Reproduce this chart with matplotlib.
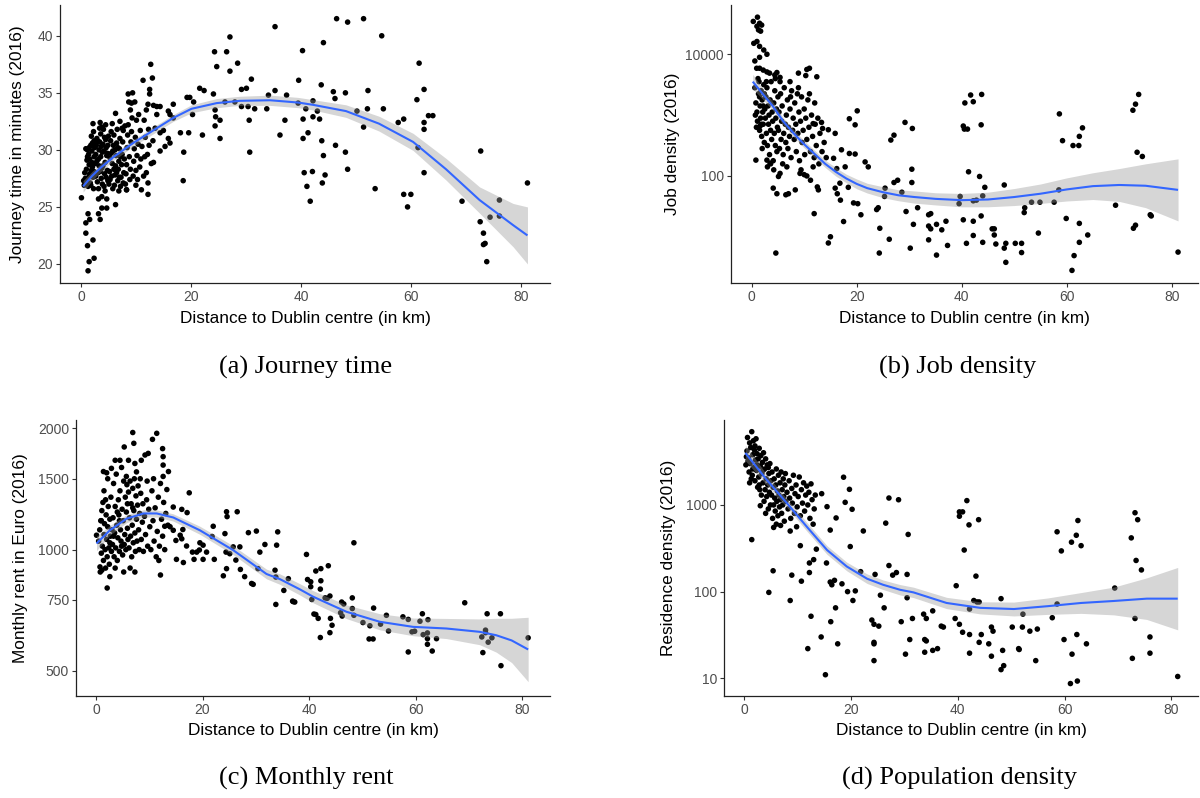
import numpy as np
import matplotlib
matplotlib.use("Agg")
import matplotlib.pyplot as plt
from matplotlib.ticker import FixedLocator, NullLocator, FixedFormatter

# ---------------- DATA ----------------
# (a) Journey time in minutes vs distance (km)
journey_pts = [
    (0.1, 25.8), (0.9, 22.7), (1.2, 21.6), (1.3, 19.4), (1.5, 20.2), (2.4, 20.5), (2.2, 22.1),
    (1.3, 24.4), (0.9, 23.6), (1.6, 23.9), (3.2, 24.4), (3.5, 23.9), (3.8, 24.9), (4.7, 24.9),
    (6.3, 25.2), (3.2, 25.7), (3.8, 25.9), (4.7, 25.7), (8.3, 26.5), (12.2, 26.1), (18.6, 27.3),
    (18.7, 29.8), (18.1, 31.5), (19.6, 31.5), (19.3, 34.6), (19.8, 34.6), (20.5, 34.2), (20.3, 33.1),
    (22.1, 31.3), (21.6, 35.4), (22.4, 35.2), (24.1, 34.9), (24.3, 38.6), (24.7, 37.3), (26.5, 38.6),
    (27.1, 39.9), (27.1, 36.9), (28.5, 37.6), (24.4, 33.5), (24.5, 32.9), (24.4, 32.1), (25.3, 32.6),
    (25.3, 31.0), (26.2, 34.2), (28.0, 34.2), (29.2, 35.3), (30.1, 35.4), (31.0, 36.2), (29.2, 33.8),
    (30.4, 33.8), (31.6, 33.6), (30.6, 32.6), (30.7, 29.8), (33.8, 33.6), (34.1, 34.8), (35.3, 35.2),
    (35.3, 40.8), (37.1, 32.6), (36.2, 31.3), (37.4, 34.8), (39.6, 36.1), (39.5, 34.1),
    (40.3, 38.7), (40.9, 33.6), (40.4, 32.7), (40.4, 31.0), (41.3, 31.5), (40.6, 28.0), (41.1, 26.8),
    (41.7, 25.5), (42.1, 28.1), (42.2, 34.3), (42.2, 32.9), (43.0, 33.4), (43.4, 32.7), (43.7, 35.7),
    (44.1, 39.4), (43.8, 30.8), (44.1, 29.5), (44.4, 27.8), (43.9, 27.1), (45.9, 35.1), (46.2, 34.5),
    (46.5, 41.5), (46.3, 30.4), (48.1, 35.0), (48.1, 29.8), (48.5, 28.3), (48.5, 41.2), (50.2, 33.4),
    (51.4, 41.5), (51.4, 32.0), (52.1, 33.6), (52.2, 35.2), (53.5, 26.6), (54.7, 40.0), (55.0, 33.6),
    (57.7, 32.4), (58.7, 32.7), (58.7, 26.1), (60.0, 26.1), (59.4, 25.0), (61.1, 34.4), (61.5, 37.6),
    (61.3, 30.2), (62.4, 35.3), (62.4, 32.4), (62.4, 31.8), (62.4, 28.0), (63.2, 33.0), (64.0, 33.0),
    (69.3, 25.5), (72.7, 29.9), (72.6, 23.7), (73.2, 22.7), (73.2, 21.7), (73.5, 21.8), (73.8, 20.2),
    (74.4, 24.1), (76.1, 25.6), (76.1, 24.2), (81.2, 27.1),
    (0.6, 26.9), (0.8, 27.5), (1.0, 28.3), (1.1, 29.1), (1.2, 30.0), (0.9, 30.1), (1.4, 29.6),
    (1.5, 28.7), (1.6, 27.9), (1.7, 27.1), (1.8, 30.4), (1.9, 31.2), (2.0, 29.9), (2.1, 28.5),
    (2.2, 27.6), (2.3, 26.6), (2.4, 30.8), (2.2, 32.3), (1.3, 26.8), (0.7, 28.0), (1.5, 30.2),
    (2.0, 28.9), (2.4, 29.4), (1.8, 26.9), (2.5, 27.9), (1.2, 29.4), (2.3, 31.6), (0.5, 27.3),
    (1.9, 28.2), (2.5, 30.2), (1.0, 27.2), (1.6, 29.2), (2.1, 30.6), (2.4, 28.1), (1.4, 27.6),
    (2.6, 28.8), (2.7, 29.6), (2.8, 30.4), (2.9, 31.0), (3.0, 27.2), (3.1, 28.0), (3.2, 29.2),
    (3.3, 30.0), (3.4, 30.7), (3.5, 32.4), (3.6, 31.4), (3.7, 27.5), (3.8, 28.4), (3.9, 29.8),
    (4.0, 30.5), (4.1, 31.8), (4.2, 26.8), (4.3, 27.9), (4.4, 28.9), (4.5, 32.2), (4.6, 30.2),
    (4.7, 29.5), (4.8, 28.2), (4.9, 27.3), (5.0, 31.2), (2.7, 27.7), (3.0, 30.8), (3.3, 28.6),
    (3.6, 29.4), (3.9, 27.0), (4.2, 29.9), (4.5, 30.9), (4.8, 29.7), (2.9, 29.0), (3.4, 31.9),
    (3.7, 30.3), (4.0, 28.6), (4.3, 31.1), (4.6, 27.6), (4.9, 30.4), (3.2, 26.6), (2.6, 30.3),
    (3.8, 32.0), (4.4, 26.4), (3.5, 28.1),
    (5.1, 27.0), (5.2, 28.1), (5.3, 29.3), (5.4, 30.8), (5.5, 31.6), (5.6, 27.7), (5.7, 28.8),
    (5.8, 29.9), (5.9, 30.4), (6.0, 31.3), (6.1, 26.9), (6.2, 27.8), (6.3, 28.6), (6.4, 29.5),
    (6.5, 30.6), (6.6, 31.8), (6.7, 27.3), (6.8, 28.3), (6.9, 29.0), (7.0, 30.1), (7.1, 31.0),
    (7.2, 26.8), (7.3, 27.6), (7.4, 28.7), (7.5, 29.6), (7.6, 30.7), (7.7, 31.7), (7.8, 28.0),
    (7.9, 29.2), (8.0, 32.1), (5.3, 27.4), (5.8, 26.6), (6.2, 30.0), (6.7, 30.2), (7.2, 29.4),
    (7.7, 27.1), (5.5, 29.7), (6.0, 28.3), (6.5, 28.0), (7.0, 27.6), (7.5, 31.9), (6.3, 33.2),
    (5.7, 32.3), (7.1, 32.5), (6.9, 26.4),
    (8.1, 27.0), (8.2, 27.9), (8.3, 28.7), (8.4, 30.2), (8.5, 31.3), (8.6, 32.2), (8.7, 34.2),
    (8.8, 29.4), (8.9, 27.4), (9.0, 28.3), (9.1, 30.7), (9.2, 31.6), (9.3, 32.8), (9.4, 35.0),
    (9.5, 27.7), (9.6, 29.0), (9.7, 30.1), (9.8, 34.2), (9.9, 31.1), (10.0, 28.2), (10.1, 32.6),
    (10.2, 29.5), (10.3, 27.4), (10.4, 30.5), (10.5, 33.1), (8.6, 34.9), (9.2, 34.1), (8.3, 26.5),
    (9.0, 33.5), (10.0, 26.9),
    (10.7, 28.5), (10.9, 29.2), (11.1, 30.3), (11.3, 36.1), (11.4, 27.7), (11.5, 32.6), (11.7, 31.1),
    (11.9, 33.5), (11.9, 28.0), (12.1, 29.6), (12.2, 34.0), (12.2, 27.1), (12.3, 31.8), (12.4, 30.4),
    (12.5, 35.3), (12.5, 34.9), (12.7, 37.5), (12.8, 28.8), (13.0, 36.3), (13.1, 30.8), (13.2, 33.9),
    (13.2, 28.9), (13.5, 31.9), (13.8, 33.8), (13.8, 33.1), (14.4, 33.8), (14.4, 31.5), (14.4, 29.9),
    (15.0, 31.7), (15.3, 30.3), (15.9, 33.4), (15.9, 31.0), (16.2, 33.1), (16.2, 30.6), (16.8, 34.0),
    (16.8, 32.8), (11.0, 26.5), (10.8, 31.7), (11.6, 29.4),
]
journey_fit_x = [0.4, 2, 3.5, 6, 9.5, 13.8, 16.8, 20.1, 24.7, 28.9, 34.4, 39.5, 42.2, 48.2,
                 54.2, 60.4, 66.4, 72.5, 78.6, 81.2]
journey_fit_y = [26.8, 27.7, 28.4, 29.4, 30.6, 31.9, 32.8, 33.6, 34.1, 34.3, 34.35, 34.15, 33.95,
                 33.4, 32.3, 30.7, 28.3, 25.6, 23.4, 22.5]
journey_fit_se = [0.5, 0.4, 0.35, 0.3, 0.3, 0.3, 0.3, 0.35, 0.4, 0.4, 0.45, 0.45, 0.45, 0.55,
                  0.65, 0.75, 0.95, 1.15, 1.9, 2.5]

# (b) Job density vs distance
job_pts = [
    (26.5, 389), (27.1, 468), (29.2, 759), (30.6, 603), (27.1, 78), (27.8, 85), (28.6, 54),
    (30.5, 129), (30.5, 78), (29.4, 26), (30.8, 16), (31.6, 30), (26.2, 9.1), (30.2, 6.5),
    (33.7, 23), (34.1, 24), (33.7, 15), (34.1, 13.5), (33.7, 8.9), (35.2, 16), (36.2, 13),
    (37.0, 18), (35.2, 5.0), (37.3, 7.2), (39.5, 35), (39.7, 46), (40.3, 661), (40.5, 589),
    (41.1, 589), (40.6, 1585), (40.3, 19), (40.9, 7.8), (41.3, 117), (41.7, 2138), (42.2, 1660),
    (43.8, 2188), (43.7, 692), (42.2, 39), (42.8, 40), (42.2, 18), (42.2, 10.5), (43.4, 98),
    (43.7, 22), (44.0, 47), (44.4, 65), (44.0, 8.1), (45.8, 13.5), (46.2, 13.5), (46.2, 10.7),
    (46.5, 7.6), (48.1, 71), (48.1, 6.5), (48.4, 3.8), (48.4, 7.8), (50.2, 7.8), (51.4, 7.8),
    (51.4, 5.5), (52.0, 30), (51.9, 25), (53.3, 37), (54.9, 37), (54.6, 11.5), (57.6, 37),
    (58.5, 59), (58.6, 1047), (59.2, 380), (59.9, 20), (61.2, 316), (62.3, 316), (62.4, 447),
    (63.0, 617), (61.4, 4.9), (61.0, 2.8), (62.4, 16.6), (62.4, 8.1), (64.0, 10.7), (69.3, 33),
    (72.6, 1202), (73.1, 1514), (73.7, 2188), (73.4, 245), (74.4, 209), (72.7, 13.8), (73.1, 15.5),
    (75.9, 23), (76.1, 22), (81.2, 5.6),
    (0.3, 34674), (1.1, 40738), (1.5, 32359), (1.9, 30200), (1.3, 25119), (1.7, 23988),
    (1.0, 28840), (0.4, 15136), (1.0, 16218), (1.5, 13490), (2.3, 11749), (2.9, 10000),
    (0.6, 7762), (1.5, 8913), (0.95, 5888), (1.5, 5888), (2.2, 5495), (2.9, 5129), (3.4, 4898),
    (4.4, 4571), (4.8, 5012), (5.4, 4169), (8.9, 4898), (10.5, 5623), (11.0, 5888), (10.3, 4467),
    (12.4, 4266), (7.3, 3548), (20.1, 1175), (18.6, 871), (19.7, 692), (15.9, 501), (14.6, 575),
    (13.3, 759), (13.5, 603), (11.7, 724), (17.1, 269), (18.6, 234), (19.7, 229), (21.6, 170),
    (22.2, 141), (17.8, 141), (15.6, 195), (16.2, 132), (16.8, 76), (15.9, 63), (16.3, 51),
    (16.9, 40), (18.4, 65), (19.4, 36), (20.2, 35), (20.8, 23), (23.8, 28), (24.1, 30),
    (24.4, 13.8), (25.3, 46), (25.4, 63), (24.3, 5.4), (17.5, 17.8), (11.9, 24), (14.6, 7.9),
    (15.0, 10), (4.6, 5.4), (4.1, 63), (4.8, 51), (6.5, 49), (7.0, 51), (8.3, 59), (12.7, 59),
    (12.5, 66), (10.5, 100), (11.2, 85), (9.2, 110), (10.0, 105), (11.7, 141), (5.4, 110),
    (5.1, 98), (2.9, 182), (3.5, 162), (0.8, 182), (1.6, 661),
    (0.6, 2818), (0.8, 1585), (1.0, 1122), (1.1, 794), (1.3, 2239), (1.4, 3548), (1.5, 562),
    (1.6, 1413), (1.7, 891), (1.8, 2512), (1.9, 447), (2.0, 1778), (2.1, 1122), (2.2, 708),
    (2.3, 3162), (2.4, 355), (2.5, 1259), (1.2, 3981), (0.9, 631), (2.0, 282), (1.5, 1995),
    (2.4, 2239), (0.7, 1000), (1.8, 708), (2.2, 1413),
    (2.6, 891), (2.7, 1995), (2.8, 501), (2.9, 2818), (3.0, 316), (3.1, 1413), (3.2, 708),
    (3.3, 1000), (3.4, 224), (3.5, 1778), (3.6, 562), (3.7, 3548), (3.8, 398), (3.9, 1122),
    (4.0, 794), (4.1, 178), (4.2, 1585), (4.3, 501), (4.4, 2512), (4.5, 316), (4.6, 891),
    (4.7, 1259), (4.8, 251), (4.9, 631), (5.0, 1995), (3.0, 141), (3.6, 158), (4.2, 126),
    (2.8, 3548), (4.5, 3981),
    (5.1, 562), (5.2, 1122), (5.3, 282), (5.5, 2239), (5.6, 398), (5.7, 794), (5.8, 1413),
    (6.0, 224), (6.1, 501), (6.2, 2818), (6.4, 708), (6.5, 355), (6.6, 1000), (6.8, 1778),
    (6.9, 282), (7.0, 631), (7.2, 447), (7.3, 1259), (7.5, 200), (7.6, 2512), (7.8, 562),
    (7.9, 891), (5.9, 158), (6.7, 141), (7.4, 1995), (5.4, 3548),
    (8.1, 398), (8.2, 1585), (8.4, 708), (8.5, 251), (8.7, 2239), (8.8, 501), (9.0, 1122),
    (9.1, 178), (9.3, 794), (9.5, 1995), (9.6, 355), (9.8, 562), (10.0, 1259), (10.1, 224),
    (10.3, 891), (10.5, 398), (10.7, 1778), (10.9, 631), (9.4, 126), (8.9, 2818),
    (11.2, 251), (11.4, 1000), (11.6, 447), (11.9, 200), (12.1, 708), (12.3, 316), (12.6, 891),
    (12.8, 158), (13.0, 501), (13.4, 251), (13.8, 355), (14.2, 200), (12.0, 1585), (11.0, 2239),
]
job_fit_x = [0.2, 2, 4, 6, 8, 10, 12, 14, 16, 18, 20, 22, 25, 28, 31, 35, 40, 45, 50, 55,
             60, 65, 70, 75, 81.2]
job_fit_y = [3548, 2291, 1413, 794, 501, 331, 229, 158, 117, 91, 74, 63, 54, 48, 45, 42, 40,
             41, 45, 51, 60, 68, 71, 69, 59]
job_fit_se_log = [0.12, 0.09, 0.07, 0.06, 0.06, 0.06, 0.06, 0.06, 0.07, 0.07, 0.08, 0.08, 0.09,
                  0.09, 0.1, 0.1, 0.11, 0.12, 0.14, 0.16, 0.19, 0.22, 0.27, 0.36, 0.51]

# (c) Monthly rent in Euro vs distance
rent_pts = [
    (2.1, 803), (2.6, 857), (0.1, 1086), (0.75, 906), (1.1, 889), (12.1, 865), (6.9, 1954),
    (11.4, 1945), (10.6, 1879), (7.1, 1837), (5.3, 1799), (12.5, 1782), (9.8, 1734), (9.2, 1718),
    (3.6, 1667), (4.5, 1667), (6.1, 1667), (7.3, 1637), (8.5, 1667), (12.6, 1702), (12.6, 1622),
    (2.9, 1592), (1.4, 1563), (2.0, 1552), (13.6, 1563), (17.5, 1384), (14.5, 1276), (16.1, 1259),
    (17.1, 1236), (13.9, 1140), (12.9, 1143), (14.5, 1117), (16.3, 1122), (15.0, 1054),
    (16.1, 1064), (15.8, 1086), (15.1, 946), (16.4, 929), (17.0, 1021), (18.1, 986), (18.9, 986),
    (19.5, 1040), (20.1, 1026), (18.4, 946), (20.1, 946), (19.4, 998), (20.75, 986), (22.2, 946),
    (22.0, 1143), (21.8, 1078), (24.5, 1242), (24.6, 1208), (26.5, 1242), (24.2, 1096),
    (24.4, 986), (25.1, 977), (26.25, 942), (25.75, 1016), (24.5, 897), (23.9, 861), (27.0, 1016),
    (27.1, 893), (27.9, 857), (28.6, 1102), (30.1, 1112), (31.7, 1030), (30.75, 986), (30.4, 897),
    (29.2, 824), (29.5, 820), (34.1, 1107), (33.9, 1026), (33.6, 889), (33.75, 855), (36.1, 847),
    (35.25, 792), (33.75, 731), (37.0, 743),
    (36.9, 745), (37.3, 741), (39.5, 973), (39.7, 843), (40.3, 832), (40.3, 809), (40.5, 752),
    (41.25, 885), (42.2, 897), (42.2, 837), (42.1, 798), (43.6, 912), (43.0, 759), (43.4, 757),
    (43.9, 767), (40.9, 692), (41.25, 690), (41.7, 675), (44.0, 675), (44.3, 649), (43.9, 622),
    (42.1, 605), (48.4, 1040), (46.1, 741), (46.5, 733), (45.9, 697), (46.2, 684), (48.1, 759),
    (48.1, 714), (48.4, 687), (50.1, 659), (51.4, 647), (51.25, 600), (52.0, 600), (52.1, 716),
    (53.4, 653), (54.5, 687), (54.9, 628), (57.6, 681), (58.6, 671), (58.6, 557), (59.3, 625),
    (59.8, 627), (60.8, 664), (61.25, 693), (61.4, 615), (62.3, 670), (62.2, 621), (62.2, 601),
    (62.2, 582), (63.1, 560), (63.9, 601), (69.2, 738), (72.4, 607), (72.6, 555), (73.1, 631),
    (73.1, 622), (73.4, 693), (73.6, 589), (74.3, 604), (75.9, 693), (76.0, 515), (81.1, 604),
    (0.5, 1050), (0.7, 1120), (0.9, 1180), (1.0, 980), (1.1, 1250), (1.2, 1020), (1.3, 1310),
    (1.4, 940), (1.5, 1090), (1.6, 1160), (1.7, 1000), (1.8, 900), (1.9, 1220), (2.0, 1060),
    (2.1, 960), (2.2, 1140), (2.3, 1280), (2.4, 1010), (2.5, 920), (2.6, 1190), (2.7, 1080),
    (2.8, 1350), (2.9, 990), (3.0, 1120), (0.8, 880), (1.5, 1400), (2.2, 1500), (1.0, 1180),
    (2.6, 1040), (1.8, 1330),
    (3.1, 1030), (3.2, 1200), (3.3, 1460), (3.4, 960), (3.5, 1100), (3.6, 1280), (3.7, 1010),
    (3.8, 1540), (3.9, 1150), (4.0, 940), (4.1, 1070), (4.2, 1330), (4.3, 1220), (4.4, 990),
    (4.5, 1400), (4.6, 1120), (4.7, 1050), (4.8, 1600), (4.9, 1260), (5.0, 970), (5.1, 1180),
    (5.2, 1480), (5.3, 1030), (5.4, 1090), (5.5, 1350), (5.6, 1000), (5.7, 1240), (5.8, 1450),
    (5.9, 1130), (6.0, 1060), (3.6, 900), (4.4, 1180), (5.2, 880), (5.7, 1520), (4.0, 1240),
    (3.3, 1080), (4.8, 1020), (5.9, 1300),
    (6.1, 1390), (6.2, 1010), (6.3, 1200), (6.4, 1480), (6.5, 1080), (6.6, 1300), (6.7, 960),
    (6.8, 1150), (6.9, 1420), (7.0, 1040), (7.1, 1250), (7.2, 1500), (7.3, 1100), (7.4, 990),
    (7.5, 1360), (7.6, 1190), (7.7, 1050), (7.8, 1290), (7.9, 1440), (8.0, 1120), (8.1, 1000),
    (8.2, 1230), (8.4, 1380), (8.5, 1060), (8.7, 1170), (8.8, 1300), (8.9, 990), (6.4, 900),
    (7.6, 1560), (8.3, 1500), (6.9, 1270), (7.3, 880),
    (9.1, 1210), (9.3, 1090), (9.5, 1330), (9.7, 1020), (9.9, 1260), (10.1, 1140), (10.3, 1000),
    (10.5, 1400), (10.7, 1180), (10.9, 1050), (11.1, 1270), (11.3, 960), (11.5, 1110),
    (11.7, 1350), (11.9, 1020), (12.1, 1460), (12.3, 1190), (12.5, 1080), (12.7, 1310),
    (12.9, 1000), (13.1, 1230), (13.3, 1410), (9.6, 1480), (10.8, 1500), (11.8, 940),
    (12.6, 1520), (13.5, 1150),
]
rent_fit_x = [0.1, 2.6, 5.75, 8.9, 11.4, 14.5, 19.5, 25.75, 32, 34.5, 38.25, 40.75, 47, 53.25,
              59.5, 65.75, 72, 75.1, 78, 81.1]
rent_fit_y = [1036, 1117, 1194, 1230, 1230, 1202, 1117, 997, 870, 845, 797, 764, 701, 662, 643,
              637, 625, 613, 595, 565]
rent_fit_se_log = [0.018, 0.012, 0.01, 0.009, 0.009, 0.009, 0.01, 0.011, 0.012, 0.013, 0.014,
                   0.015, 0.017, 0.02, 0.022, 0.025, 0.032, 0.042, 0.055, 0.08]

# (d) Residence density vs distance
res_pts = [
    (1.4, 398), (4.6, 98), (5.4, 174), (8.6, 79), (8.9, 155), (10.7, 132), (10.5, 339),
    (12.2, 214), (12.2, 166), (13.0, 234), (12.5, 52), (11.9, 22), (13.5, 309), (14.4, 30),
    (15.2, 11), (15.4, 214), (16.1, 513), (15.5, 955), (14.5, 1349), (16.1, 129), (16.4, 120),
    (16.9, 135), (16.2, 45), (17.1, 65), (17.5, 25), (17.2, 708), (18.3, 123), (18.6, 2089),
    (18.9, 1072), (19.35, 100), (19.7, 1514), (19.85, 331), (20.2, 891), (20.35, 79), (20.8, 102),
    (22.3, 501), (21.8, 170), (24.5, 158), (25.5, 91), (23.9, 47), (24.3, 42), (25.2, 40),
    (24.3, 26), (24.3, 25), (24.3, 16), (26.2, 65), (26.5, 617), (27.1, 1202), (27.1, 200),
    (27.8, 155), (28.5, 166), (28.9, 1148),
    (30.5, 158), (30.7, 457), (30.5, 85), (29.4, 45), (31.5, 49), (31.0, 28), (30.2, 19),
    (33.6, 55), (34.1, 49), (35.3, 60), (33.8, 28), (34.1, 27), (33.8, 20), (35.3, 21), (36.2, 22),
    (36.9, 40), (37.3, 39), (39.7, 117), (39.5, 49), (40.3, 42), (40.9, 34), (40.3, 832),
    (40.9, 832), (40.3, 741), (41.7, 1122), (41.2, 302), (42.1, 589), (43.9, 676), (43.4, 151),
    (43.0, 79), (43.6, 76), (44.0, 76), (42.2, 63), (42.2, 32), (42.2, 19.5), (44.4, 32),
    (44.0, 26), (45.8, 25), (46.3, 39), (46.6, 35), (46.3, 18), (48.1, 83), (48.4, 21),
    (48.6, 14), (48.1, 12.6), (50.2, 39), (51.4, 22), (51.5, 21.5), (52.1, 39), (52.2, 55),
    (53.5, 35), (54.9, 37), (54.6, 16), (57.7, 50), (58.6, 72), (58.6, 490), (59.4, 295),
    (59.9, 28), (61.3, 372), (61.4, 19), (61.1, 8.7), (62.4, 9.3), (62.2, 447), (62.5, 661),
    (63.1, 339), (62.3, 32), (64.1, 25), (69.4, 110), (72.5, 417), (73.2, 813), (73.7, 676),
    (73.4, 229), (74.4, 178), (73.2, 49), (72.7, 17), (76.0, 30), (76.0, 19.5), (81.2, 10.5),
    (0.3, 2900), (0.5, 4200), (0.6, 6000), (0.8, 3500), (0.9, 2400), (1.0, 5200), (1.1, 3000),
    (1.2, 4600), (1.4, 7000), (1.5, 2200), (1.6, 3800), (1.7, 5500), (1.8, 2700), (1.9, 4300),
    (2.0, 1900), (2.1, 3300), (2.2, 5800), (2.3, 2500), (2.4, 3900), (2.5, 1600), (0.7, 3200),
    (1.3, 2000), (2.0, 4800), (1.0, 1800), (2.4, 2900), (0.4, 3600), (1.6, 2600),
    (2.6, 3400), (2.7, 2100), (2.8, 4500), (2.9, 1500), (3.0, 2800), (3.1, 3700), (3.2, 1300),
    (3.3, 2300), (3.4, 3100), (3.5, 1800), (3.6, 4000), (3.7, 1100), (3.8, 2600), (3.9, 1500),
    (4.0, 3400), (4.1, 2000), (4.2, 1250), (4.3, 2900), (4.4, 1700), (4.5, 900), (4.6, 2300),
    (4.7, 1400), (4.8, 3000), (4.9, 1000), (5.0, 1900), (3.0, 980), (4.0, 800), (3.5, 2500),
    (4.5, 2700), (2.8, 1700),
    (5.1, 1300), (5.2, 2400), (5.3, 700), (5.4, 1600), (5.5, 1000), (5.6, 2000), (5.7, 1200),
    (5.8, 850), (5.9, 1700), (6.0, 2600), (6.1, 1100), (6.2, 1450), (6.3, 750), (6.4, 2200),
    (6.5, 1300), (6.6, 950), (6.7, 1800), (6.8, 1150), (6.9, 2400), (7.0, 800), (7.1, 1500),
    (7.2, 1000), (7.3, 2000), (7.4, 1250), (7.5, 650), (7.6, 1700), (7.8, 1100), (8.0, 1400),
    (5.5, 550), (6.8, 580), (7.7, 2300), (6.0, 600),
    (8.2, 900), (8.4, 1900), (8.5, 1200), (8.7, 700), (8.9, 1550), (9.0, 1050), (9.2, 2200),
    (9.4, 800), (9.5, 1350), (9.7, 1700), (9.9, 950), (10.1, 1250), (10.3, 2100), (10.5, 750),
    (10.7, 1500), (10.9, 1050), (11.1, 1800), (11.3, 850), (11.5, 1300), (11.7, 1650),
    (11.9, 1000), (12.1, 1400), (12.3, 700), (12.5, 1750), (12.7, 1150), (12.9, 600), (13.1, 900),
    (13.3, 1300), (8.6, 500), (9.8, 560),
]
res_fit_x = [0.2, 4.2, 8.0, 11.7, 15.5, 19.2, 23.0, 26, 29.2, 31.7, 37.9, 44.2, 50.5, 56.9,
             63.1, 69.2, 75.4, 81.2]
res_fit_y = [3981, 1950, 1047, 562, 302, 195, 141, 120, 105, 98, 74, 65, 63, 68, 74, 78, 83, 83]
res_fit_se_log = [0.09, 0.06, 0.05, 0.05, 0.05, 0.05, 0.055, 0.055, 0.06, 0.06, 0.065, 0.07,
                  0.08, 0.095, 0.12, 0.16, 0.24, 0.36]

x_ticks = [0, 20, 40, 60, 80]
xlabel = "Distance to Dublin centre (in km)"
ylabels = ["Journey time in minutes (2016)", "Job density (2016)",
           "Monthly rent in Euro (2016)", "Residence density (2016)"]
captions = ["(a) Journey time", "(b) Job density", "(c) Monthly rent", "(d) Population density"]

# ---------------- PLOT ----------------
plt.rcParams['font.family'] = ['Liberation Sans', 'DejaVu Sans']
W, H = 1200, 798
fig = plt.figure(figsize=(W / 100, H / 100), dpi=100)

def px_rect(l, t, r, b):
    return [l / W, 1 - b / H, (r - l) / W, (b - t) / H]

rects = [px_rect(60, 5, 550, 283), px_rect(731, 5, 1198, 283),
         px_rect(76, 420, 550, 696), px_rect(724, 420, 1198, 696)]

LINE = '#3366FF'
BAND = '#999999'
TICKC = '#4d4d4d'

def style(ax):
    for s in ['top', 'right']:
        ax.spines[s].set_visible(False)
    for s in ['left', 'bottom']:
        ax.spines[s].set_color('#222222')
        ax.spines[s].set_linewidth(0.9)
    ax.tick_params(axis='both', which='major', length=3, width=0.8, color='#333333',
                   labelcolor=TICKC, labelsize=10, pad=2)
    ax.tick_params(axis='both', which='minor', length=0)
    ax.xaxis.set_major_locator(FixedLocator(x_ticks))

def draw(ax, pts, fx, fy, lo, hi):
    xs = [p[0] for p in pts]
    ys = [p[1] for p in pts]
    ax.scatter(xs, ys, s=16, c='black', edgecolors='none', zorder=2)
    ax.fill_between(fx, lo, hi, color=BAND, alpha=0.4, linewidth=0, zorder=3)
    ax.plot(fx, fy, color=LINE, lw=1.5, zorder=4, solid_capstyle='butt')

# (a)
ax = fig.add_axes(rects[0])
style(ax)
fy = np.array(journey_fit_y); se = np.array(journey_fit_se)
draw(ax, journey_pts, journey_fit_x, fy, fy - se, fy + se)
ax.set_xlim(-3.8, 85.3)
ax.set_ylim(18.33, 42.7)
ax.yaxis.set_major_locator(FixedLocator([20, 25, 30, 35, 40]))

# (b)
ax = fig.add_axes(rects[1])
ax.set_yscale('log')
style(ax)
fy = np.array(job_fit_y, float); f = 10 ** np.array(job_fit_se_log)
draw(ax, job_pts, job_fit_x, fy, fy / f, fy * f)
ax.set_xlim(-3.94, 85.0)
ax.set_ylim(10 ** 0.24, 10 ** 4.81)
ax.yaxis.set_major_locator(FixedLocator([100, 10000]))
ax.yaxis.set_major_formatter(FixedFormatter(['100', '10000']))
ax.yaxis.set_minor_locator(NullLocator())

# (c)
ax = fig.add_axes(rects[2])
ax.set_yscale('log')
style(ax)
fy = np.array(rent_fit_y, float); f = 10 ** np.array(rent_fit_se_log)
draw(ax, rent_pts, rent_fit_x, fy, fy / f, fy * f)
ax.set_xlim(-3.75, 85.2)
ax.set_ylim(433, 2099)
ax.yaxis.set_major_locator(FixedLocator([500, 750, 1000, 1500, 2000]))
ax.yaxis.set_major_formatter(FixedFormatter(['500', '750', '1000', '1500', '2000']))
ax.yaxis.set_minor_locator(NullLocator())

# (d)
ax = fig.add_axes(rects[3])
ax.set_yscale('log')
style(ax)
fy = np.array(res_fit_y, float); f = 10 ** np.array(res_fit_se_log)
draw(ax, res_pts, res_fit_x, fy, fy / f, fy * f)
ax.set_xlim(-3.8, 85.0)
ax.set_ylim(10 ** 0.796, 10 ** 3.98)
ax.yaxis.set_major_locator(FixedLocator([10, 100, 1000]))
ax.yaxis.set_major_formatter(FixedFormatter(['10', '100', '1000']))
ax.yaxis.set_minor_locator(NullLocator())

# Labels
xl_pos = [(305, 318), (964, 318), (313, 730), (961, 730)]
yl_pos = [(18, 144), (672, 144), (21, 558), (668, 558)]
cap_pos = [(306, 367), (958, 367), (306, 778), (960, 778)]
for i in range(4):
    fig.text(xl_pos[i][0] / W, 1 - xl_pos[i][1] / H, xlabel, ha='center', va='center',
             fontsize=12.4, color='black')
    fig.text(yl_pos[i][0] / W, 1 - yl_pos[i][1] / H, ylabels[i], ha='center', va='center',
             rotation=90, fontsize=12.4, color='black')
    fig.text(cap_pos[i][0] / W, 1 - cap_pos[i][1] / H, captions[i], ha='center', va='center',
             fontsize=19, family=['Liberation Serif', 'DejaVu Serif'], color='black')

fig.savefig('out.png', dpi=100)
